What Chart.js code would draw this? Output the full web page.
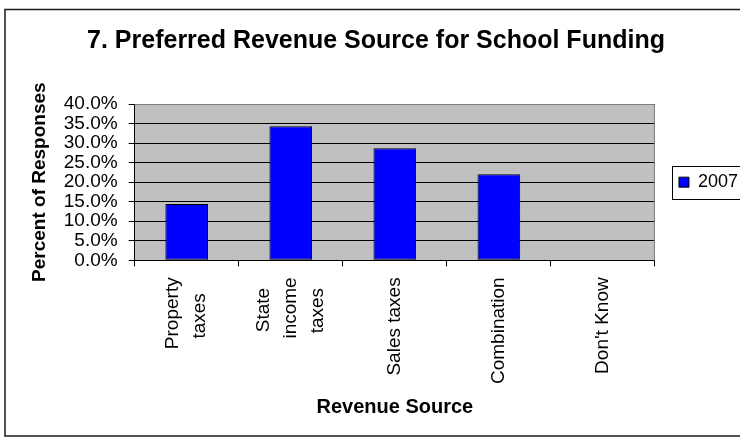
<!DOCTYPE html>
<html>
<head>
<meta charset="utf-8">
<script src="https://cdn.jsdelivr.net/npm/chart.js@4/dist/chart.umd.min.js"></script>
<style>
    html, body { margin: 0; padding: 0; background: #fff; }
    canvas { display: block; }
</style>
</head>
<body>
<canvas id="chart" width="740" height="437"></canvas>
<script>
const categories = [
    ["Property", "taxes"],
    ["State", "income", "taxes"],
    ["Sales taxes"],
    ["Combination"],
    ["Don't Know"]
]
const seriesName = "2007"
const values2007 = [14.4, 34.3, 28.7, 22.0, 0]
const yMin = 0
const yMax = 40
const yStep = 5

const FONT = "'Liberation Sans', Arial, sans-serif"
const TICK_SIZE = 19
const LINE_GAP = 27      // distance between wrapped label lines
const SLOTS = 5          // half-gap slots, enough for 3 lines

// rotated labels are right aligned, so pad short lines to sit
// centred under the longest one
const measureCtx = document.createElement("canvas").getContext("2d")
measureCtx.font = `${TICK_SIZE}px ${FONT}`
function centerLines(lines) {
    const widths = lines.map(s => measureCtx.measureText(s).width)
    const max = Math.max(...widths)
    const space = measureCtx.measureText(" ").width
    return lines.map((s, i) => s + " ".repeat(Math.round((max - widths[i]) / 2 / space)))
}

// chart.js stacks wrapped rotated lines to one side of the tick,
// so spread them over half-gap slots and pull them back by labelOffset
function spreadLines(lines) {
    const out = new Array(SLOTS).fill("")
    const first = (SLOTS - 1) / 2 - (lines.length - 1)
    lines.forEach((s, i) => { out[first + i * 2] = s })
    return out
}

Chart.defaults.font.family = FONT
Chart.defaults.color = "#000"

// grey plot background, frame round the whole chart, box round the legend
const framePlugin = {
    id: "frame",
    beforeDraw(chart) {
        const {ctx, chartArea: a} = chart
        ctx.save()
        ctx.fillStyle = "#fff"
        ctx.fillRect(0, 0, chart.width, chart.height)
        ctx.fillStyle = "#c0c0c0"
        ctx.fillRect(a.left, a.top, a.right - a.left, a.bottom - a.top)
        ctx.restore()
    },
    afterDraw(chart) {
        const {ctx, chartArea: a} = chart
        ctx.save()
        ctx.strokeStyle = "#808080"
        ctx.lineWidth = 1
        ctx.beginPath()
        ctx.moveTo(a.left, a.top + 0.5)
        ctx.lineTo(a.right - 0.5, a.top + 0.5)
        ctx.lineTo(a.right - 0.5, a.bottom)
        ctx.stroke()

        ctx.strokeStyle = "#1a1a1a"
        ctx.lineWidth = 1.5
        ctx.strokeRect(5, 9.5, 780, 426.5)

        const hit = chart.legend.legendHitBoxes[0]
        if (hit) {
            const cy = hit.top + hit.height / 2
            ctx.strokeStyle = "#000"
            ctx.lineWidth = 1
            ctx.strokeRect(Math.round(hit.left - 7) + 0.5, Math.round(cy - 16.5) + 0.5, 120, 33)
        }
        ctx.restore()
    }
}

new Chart(document.getElementById("chart"), {
    type: "bar",
    data: {
        labels: categories.map(c => spreadLines(centerLines(c))),
        datasets: [
            {
                label: seriesName,
                data: values2007,
                backgroundColor: "#0000ff",
                borderColor: "#000",
                borderWidth: 1,
                borderSkipped: false,
                barPercentage: 0.41,
                categoryPercentage: 1
            }
        ]
    },
    options: {
        responsive: false,
        animation: false,
        layout: {
            padding: {left: 4, right: -8, top: 0, bottom: 0}
        },
        plugins: {
            title: {
                display: true,
                text: "7. Preferred Revenue Source for School Funding",
                color: "#000",
                font: {size: 25, weight: "bold"},
                padding: {top: 26, bottom: 48}
            },
            legend: {
                position: "right",
                fullSize: false,
                labels: {
                    boxWidth: 10,
                    boxHeight: 10,
                    padding: 24,
                    color: "#000",
                    font: {size: 18}
                }
            },
            tooltip: {enabled: false}
        },
        scales: {
            x: {
                grid: {
                    offset: true,
                    drawOnChartArea: false,
                    drawTicks: true,
                    tickLength: 6,
                    color: "#000"
                },
                border: {color: "#000", width: 1},
                ticks: {
                    minRotation: 90,
                    maxRotation: 90,
                    autoSkip: false,
                    padding: 11,
                    labelOffset: -LINE_GAP,
                    color: "#000",
                    font: {size: TICK_SIZE, lineHeight: (LINE_GAP / 2) + "px"}
                },
                title: {
                    display: true,
                    text: "Revenue Source",
                    color: "#000",
                    font: {size: 20, weight: "bold"},
                    padding: {top: 0, bottom: 18}
                }
            },
            y: {
                min: yMin,
                max: yMax,
                grid: {
                    color: "#000",
                    drawTicks: true,
                    tickLength: 6
                },
                border: {color: "#000", width: 1},
                ticks: {
                    stepSize: yStep,
                    autoSkip: false,
                    padding: 11,
                    color: "#000",
                    font: {size: TICK_SIZE},
                    callback: v => v.toFixed(1) + "%"
                },
                title: {
                    display: true,
                    text: "Percent of Responses",
                    color: "#000",
                    font: {size: 19, weight: "bold"},
                    padding: {top: 24, bottom: 2}
                }
            }
        }
    },
    plugins: [framePlugin]
})
</script>
</body>
</html>
